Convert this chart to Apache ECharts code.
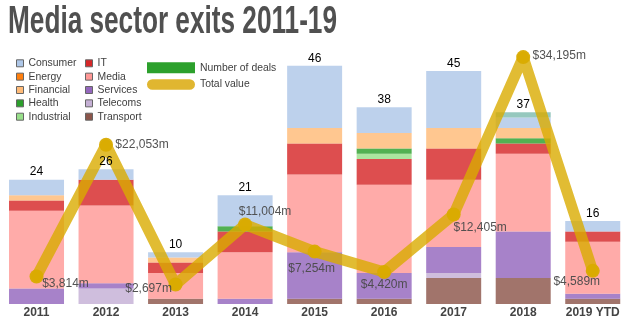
<!DOCTYPE html>
<html>
<head>
<meta charset="utf-8">
<style>
html,body{margin:0;padding:0;background:#fff;}
#chart{width:629px;height:330px;}
</style>
<script src="https://cdn.jsdelivr.net/npm/echarts@6/dist/echarts.min.js"></script>
</head>
<body>
<div id="chart"></div>
<script>
// ---- data ----
var years = ['2011','2012','2013','2014','2015','2016','2017','2018','2019 YTD'];
var consumer   = [3, 2, 1, 6, 12, 5, 11, 2, 2];
var energy     = [0, 0, 0, 0, 0, 0, 0, 0, 0];
var financial  = [1, 0, 1, 0, 3, 3, 4, 2, 0];
var health     = [0, 0, 0, 1, 0, 1, 0, 1, 0];
var industrial = [0, 0, 0, 0, 0, 1, 0, 0, 0];
var it         = [2, 5, 2, 4, 6, 5, 6, 2, 2];
var media      = [15, 15, 5, 9, 15, 17, 13, 15, 10];
var services   = [3, 1, 0, 1, 9, 5, 5, 9, 1];
var telecoms   = [0, 3, 0, 0, 0, 0, 1, 0, 0];
var transport  = [0, 0, 1, 0, 1, 1, 5, 5, 1];
var other      = [0, 0, 0, 0, 0, 0, 0, 1, 0];
var deals      = [24, 26, 10, 21, 46, 38, 45, 37, 16];
var totalValue = [3814, 22053, 2697, 11004, 7254, 4420, 12405, 34195, 4589];

// label offsets for value labels (style, not data)
var labelOffsets = [[29,7],[36,0],[-27,4],[20,-12.5],[-3,17.5],[0,13],[26.5,13.3],[36,-1.3],[-16,11]];

var sectorDefs = [
  ['Transport', transport, '#8c564b'],
  ['Telecoms', telecoms, '#c5b0d5'],
  ['Services', services, '#9467bd'],
  ['Media', media, '#ff9896'],
  ['IT', it, '#d62728'],
  ['Industrial', industrial, '#98df8a'],
  ['Health', health, '#2ca02c'],
  ['Financial', financial, '#ffbb78'],
  ['Energy', energy, '#ff7f0e'],
  ['Consumer', consumer, '#aec7e8'],
  ['Other', other, '#7fbcb0']
];

var FONT = '"Liberation Sans", Arial, sans-serif';
var series = sectorDefs.map(function(d){
  return {
    name: d[0], type: 'bar', stack: 'sector', data: d[1],
    barWidth: 55, barGap: '-100%', z: 2,
    itemStyle: {color: d[2], opacity: 0.82},
    emphasis: {disabled: true}, silent: true
  };
});
series.push({
  name: 'Number of deals', type: 'bar', data: deals,
  barWidth: 55, barGap: '-100%', z: 6,
  itemStyle: {color: 'rgba(0,0,0,0)'},
  label: {show: true, position: 'top', distance: 1.5, color: '#000', fontSize: 12, fontFamily: FONT},
  emphasis: {disabled: true}, silent: true
});
series.push({
  name: 'Total value', type: 'line', yAxisIndex: 1, z: 4,
  data: totalValue.map(function(v, i){ return {value: v, label: {offset: labelOffsets[i]}}; }),
  symbol: 'circle', symbolSize: 14,
  lineStyle: {color: '#d9ab00', width: 11, opacity: 0.8, cap: 'round', join: 'round'},
  itemStyle: {color: '#d9ab00', opacity: 0.95},
  label: {
    show: true, position: 'inside', color: '#4a4a4a', fontSize: 12, fontFamily: FONT,
    formatter: function(p){ return '$' + p.value.toLocaleString('en-US') + 'm'; }
  },
  emphasis: {disabled: true}, silent: true
});

// title width fit
var titleText = 'Media sector exits 2011-19';
var titleFont = 'bold 38px "Liberation Sans Narrow", "Liberation Sans", Arial, sans-serif';
var cv = document.createElement('canvas').getContext('2d');
cv.font = titleFont;
var tw = cv.measureText(titleText).width;
var sx = 329 / tw;

var legendText = {color: '#404040', fontSize: 10.4, fontFamily: FONT, lineHeight: 12};
var chart = echarts.init(document.getElementById('chart'), null, {renderer: 'canvas'});
chart.setOption({
  animation: false,
  backgroundColor: '#fff',
  graphic: [{
    type: 'text', left: 8, top: 4, scaleX: sx,
    style: {text: titleText, font: titleFont, fill: '#505050'}
  }],
  legend: [{
    orient: 'vertical', left: 16, top: 57.3, padding: 0, itemGap: 1.35,
    itemWidth: 7, itemHeight: 7, icon: 'rect',
    itemStyle: {borderColor: '#666', borderWidth: 1, opacity: 1},
    textStyle: legendText, selectedMode: false,
    data: ['Consumer','Energy','Financial','Health','Industrial']
  },{
    orient: 'vertical', left: 85, top: 57.3, padding: 0, itemGap: 1.35,
    itemWidth: 7, itemHeight: 7, icon: 'rect',
    itemStyle: {borderColor: '#666', borderWidth: 1, opacity: 1},
    textStyle: legendText, selectedMode: false,
    data: ['IT','Media','Services','Telecoms','Transport']
  },{
    orient: 'vertical', left: 147, top: 61.7, padding: 0, itemGap: 4.8,
    itemWidth: 48, itemHeight: 11,
    textStyle: legendText, selectedMode: false,
    data: [
      {name: 'Number of deals', icon: 'rect', itemStyle: {color: '#2ca02c', opacity: 1, borderWidth: 0}},
      {name: 'Total value', icon: 'path://M5.3,0H42.7A5.3,5.3,0,0,1,42.7,10.6H5.3A5.3,5.3,0,0,1,5.3,0Z',
       itemStyle: {color: '#e0b630', opacity: 1, borderWidth: 0}}
    ]
  }],
  grid: {left: 1.75, right: 1.5, top: 45, bottom: 26, containLabel: false},
  xAxis: {
    type: 'category', data: years,
    axisLine: {show: false}, axisTick: {show: false},
    axisLabel: {fontWeight: 'bold', fontSize: 12, color: '#444', margin: 3, fontFamily: FONT, interval: 0}
  },
  yAxis: [
    {type: 'value', min: 0, max: 50, show: false, splitLine: {show: false}},
    {type: 'value', min: 0, max: 35870, show: false, splitLine: {show: false}}
  ],
  series: series
});
</script>
</body>
</html>
